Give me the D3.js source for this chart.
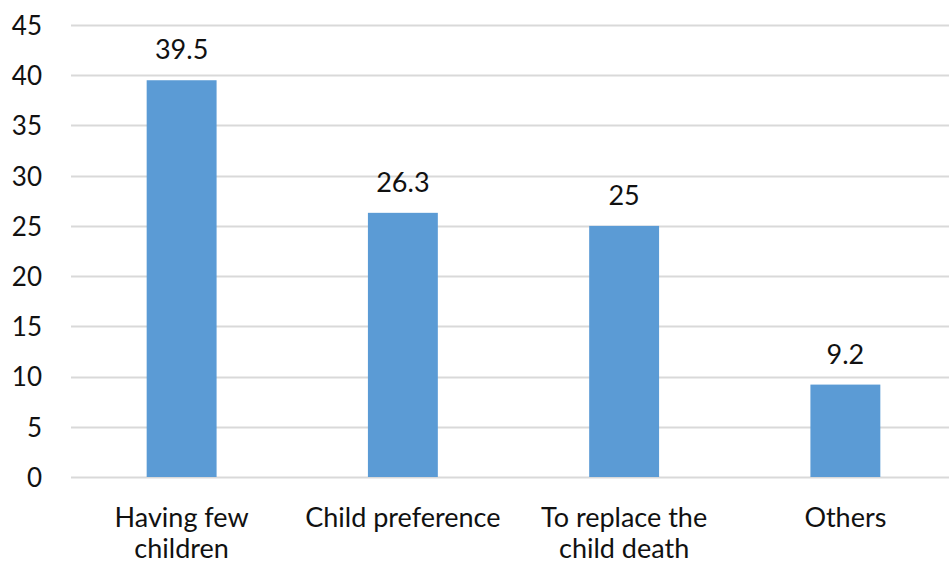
<!DOCTYPE html>
<html>
<head>
<meta charset="utf-8">
<script src="https://cdn.jsdelivr.net/npm/d3@7"></script>
<style>
  html, body { margin: 0; padding: 0; background: #fff; overflow: hidden; }
  svg { display: block; font-family: Lato, "Open Sans", sans-serif; }
</style>
</head>
<body>
<svg id="chart" width="949" height="563"></svg>
<script>
// Reasons given, with the share of respondents (%)
const categories = [["Having few", "children"], ["Child preference"], ["To replace the", "child death"], ["Others"]];
const values = [39.5, 26.3, 25, 9.2];
const valueLabels = ["39.5", "26.3", "25", "9.2"];
const yTicks = [0, 5, 10, 15, 20, 25, 30, 35, 40, 45];

const svg = d3.select("#chart");
const margin = { left: 71, right: -7, top: 25, bottom: 86 };
const W = 949, H = 563;

const x = d3.scaleBand()
  .domain(d3.range(categories.length))
  .range([margin.left, W - margin.right])
  .paddingInner(0.684)
  .paddingOuter(0.342);

const y = d3.scaleLinear()
  .domain([0, 45])
  .range([H - margin.bottom, margin.top]);

// horizontal gridlines
svg.append("g")
  .selectAll("line")
  .data(yTicks)
  .join("line")
  .attr("x1", margin.left)
  .attr("x2", W)
  .attr("y1", d => Math.round(y(d)) + 0.5)
  .attr("y2", d => Math.round(y(d)) + 0.5)
  .attr("stroke", "#d9d9d9")
  .attr("stroke-width", 2);

// y axis labels
const yAxis = d3.axisLeft(y).tickValues(yTicks).tickSize(0).tickPadding(0);
const yg = svg.append("g")
  .attr("transform", `translate(${margin.left - 29},0)`)
  .call(yAxis);
yg.select(".domain").remove();
yg.selectAll("text")
  .attr("font-size", 26)
  .attr("font-family", "Lato, sans-serif")
  .attr("fill", "#111")
  .attr("dy", "0.36em");

// bars
svg.append("g")
  .selectAll("rect")
  .data(values)
  .join("rect")
  .attr("x", (d, i) => x(i))
  .attr("width", x.bandwidth())
  .attr("y", d => y(d))
  .attr("height", d => y(0) - y(d))
  .attr("fill", "#5b9bd5");

// value labels
svg.append("g")
  .selectAll("text")
  .data(values)
  .join("text")
  .attr("x", (d, i) => x(i) + x.bandwidth() / 2)
  .attr("y", d => y(d) - 21)
  .attr("text-anchor", "middle")
  .attr("font-size", 27)
  .attr("fill", "#111")
  .text((d, i) => valueLabels[i]);

// category labels
const cg = svg.append("g")
  .selectAll("text")
  .data(categories)
  .join("text")
  .attr("x", (d, i) => x(i) + x.bandwidth() / 2)
  .attr("y", 527)
  .attr("text-anchor", "middle")
  .attr("font-size", 27)
  .attr("fill", "#111");
cg.selectAll("tspan")
  .data(d => d)
  .join("tspan")
  .attr("x", function() { return d3.select(this.parentNode).attr("x"); })
  .attr("dy", (d, j) => j === 0 ? 0 : 31)
  .text(d => d);
</script>
</body>
</html>
